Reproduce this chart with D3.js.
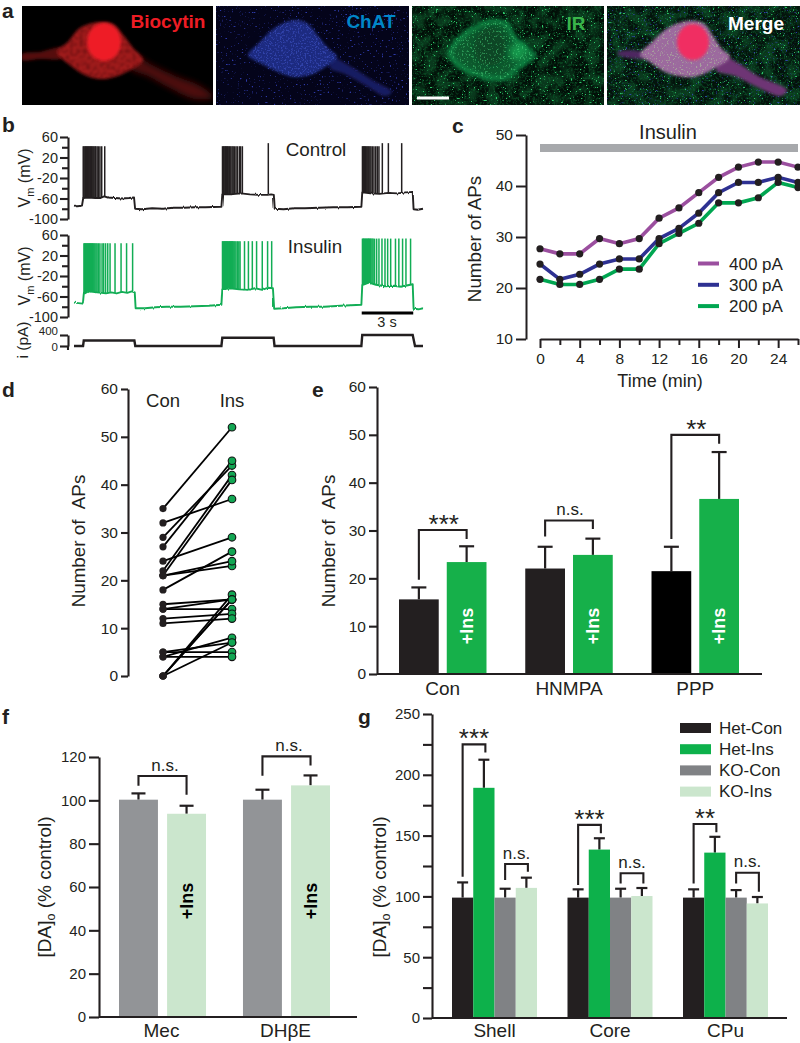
<!DOCTYPE html>
<html><head><meta charset="utf-8">
<script src="https://cdn.jsdelivr.net/npm/d3@7/dist/d3.min.js"></script>
<style>
html,body{margin:0;padding:0;background:#fff}
svg{display:block}
text{font-family:"Liberation Sans",Arial,sans-serif;fill:#231f20}
</style></head><body>
<svg id="fig" width="800" height="1043" xmlns="http://www.w3.org/2000/svg"></svg>
<script>
// ---------- Panel b: current steps and recorded traces (time in s, Vm in mV) ----------
const iSteps = [[0,0],[0.51,0],[0.55,200],[3.4,200],[3.45,0],[8.3,0],[8.35,300],[11.24,300],[11.29,0],[16.18,0],[16.23,400],[19.07,400],[19.2,0],[19.65,0]];
const controlTrace = [[0,-74],[0.2,-75],[0.45,-74],[0.52,-59],[0.8,-58],[1.2,-59],[1.5,-59],[1.7,-56],[1.9,-58],[2.3,-59],[2.7,-60],[3.1,-59],[3.38,-58],[3.44,-80],[3.8,-81],[4.4,-79],[5,-80],[5.6,-78],[6.2,-78],[6.8,-77],[7.4,-77],[8.3,-76],[8.35,-52],[8.8,-52],[9.4,-50],[9.9,-52],[10.4,-53],[10.9,-53],[11.1,-52],[11.25,-53],[11.3,-80],[11.8,-81],[12.4,-79],[13,-79],[13.8,-78],[14.6,-77],[15.4,-77],[16.18,-76],[16.23,-48],[16.7,-50],[17.2,-51],[17.7,-49],[18.2,-50],[18.7,-48],[19.07,-47],[19.12,-81],[19.35,-82],[19.65,-80]];
const insulinTrace = [[0,-72],[0.25,-73],[0.5,-74],[0.55,-55],[0.8,-50],[1.3,-52],[1.8,-54],[2.1,-52],[2.4,-54],[2.7,-51],[3,-53],[3.25,-50],[3.42,-52],[3.47,-83],[4,-83],[4.6,-81],[5.2,-80],[6,-80],[6.8,-79],[7.6,-78],[8.3,-76],[8.35,-46],[8.8,-44],[9.3,-46],[9.8,-47],[10.2,-44],[10.6,-47],[10.9,-43],[11.2,-44],[11.27,-84],[11.8,-83],[12.5,-81],[13.3,-80],[14.1,-80],[15,-78],[16.18,-76],[16.23,-38],[16.6,-33],[17,-37],[17.5,-40],[18,-39],[18.4,-41],[18.8,-38],[19.07,-36],[19.12,-84],[19.4,-85],[19.65,-83]];
const controlBursts = [
  {top:42, times:[0.52,0.57,0.62,0.66,0.71,0.75,0.8,0.84,0.89,0.93,0.98,1.02,1.07,1.12,1.18,1.22,1.3,1.37,1.46,1.56,1.73]},
  {top:42, times:[8.36,8.41,8.45,8.5,8.54,8.58,8.63,8.67,8.72,8.77,8.83,8.9,8.96,9.03,9.12,9.2,9.31,9.38,9.48]},
  {top:48, times:[10.94]},
  {top:42, times:[16.24,16.28,16.32,16.36,16.4,16.45,16.5,16.55,16.6,16.66,16.72,16.8,16.89,16.99,17.08,17.17]},
  {top:48, times:[17.36,17.7,18.45]}
];
const insulinBursts = [
  {top:44, times:[0.56,0.6,0.64,0.68,0.72,0.76,0.8,0.84,0.88,0.92,0.96,1,1.04,1.08,1.13,1.18,1.24,1.3,1.38,1.46,1.58,1.67,1.78,1.9,2.03,2.31,2.65,2.96,3.3]},
  {top:48, times:[8.36,8.4,8.44,8.48,8.52,8.56,8.6,8.64,8.68,8.72,8.76,8.8,8.84,8.88,8.92,8.96,9.01,9.06,9.12,9.2,9.28,9.35,9.6,9.82,10.04,10.28,10.6,10.9,11.13]},
  {top:53, times:[16.24,16.28,16.32,16.36,16.4,16.44,16.48,16.52,16.56,16.6,16.64,16.68,16.72,16.78,16.84,16.92,17.04,17.17,17.34,17.51,17.66,17.83,18.1,18.29,18.5,18.69,18.95]}
];
const vmTicks = [60,40,20,0,-20,-40,-60,-80,-100];
const vmLabels = [60,20,-20,-60,-100];
const iTicks = [400,0];

// ---------- Panel c ----------
const timeTicks = [0,2,4,6,8,10,12,14,16,18,20,22,24,26];
const timeLabels = [0,4,8,12,16,20,24];
const apTicks = [10,20,30,40,50];
const ap400 = [27.7,26.7,26.7,29.7,28.7,29.7,33.7,35.7,38.7,41.7,43.7,44.7,44.7,43.7];
const ap300 = [24.7,21.7,22.7,24.7,25.7,25.7,29.7,31.7,34.7,38.7,40.7,40.7,41.7,40.7];
const ap200 = [21.7,20.7,20.7,21.7,23.7,23.7,28.7,30.7,32.7,36.7,36.7,37.7,40.7,39.7];
const currentNames = ["400 pA","300 pA","200 pA"];

// ---------- Panel d ----------
const conValues = [35,32,29,27,24,22,21,21,21,18,15,14,14,12,11,5,5,4,4,0,0,0,0];
const insValues = [52,37,44,45,29,42,41,23,24,26,16,16,14,13,12,5,7,4,8,17,16,7,16];

// ---------- Panel e ----------
const eGroups = ["Con","HNMPA","PPP"];
const eMeans = [[15.6,23.4],[22.05,24.9],[21.5,36.6]];
const eErrTops = [[18.1,26.7],[26.6,28.3],[26.6,46.4]];
const eBrackets = [[19.7,30.1,28.2,"***"],[28.75,32.1,30.3,"n.s."],[28.2,50,48.15,"**"]];

// ---------- Panel f ----------
const fGroups = ["Mec","DHβE"];
const fMeans = [[100.3,93.8],[100.3,106.9]];
const fErrTops = [[103.2,97.5],[104.9,111.5]];
const fBrackets = [[106.7,111.2,102.6,"n.s."],[111.4,120.3,116.1,"n.s."]];

// ---------- Panel g ----------
const gGroups = ["Shell","Core","CPu"];
const gSeries = ["Het-Con","Het-Ins","KO-Con","KO-Ins"];
const gMeans = [[99,189.3,99,107],[99,138.5,99,100.3],[99,136,99,94.2]];
const gErrTops = [[111.5,212.4,106.3,115.4],[105.8,147.8,106.3,106.9],[105.8,149,105.2,99.5]];
const gBrackets = [
  [0,0,1,116.2,225,218.4,"***"],[0,2,3,113.5,126.6,120.3,"n.s."],
  [1,0,1,109.3,158.8,151.9,"***"],[1,2,3,110.7,119,110.7,"n.s."],
  [2,0,1,110.7,159.6,152.7,"**"],[2,2,3,110.7,119.5,103.8,"n.s."]];

// ---------- Panel a: cell outlines of the micrographs ----------
const photoBoxes = [[22,213],[216,409],[412,604],[607,800]];
const photoNames = ["Biocytin","ChAT","IR","Merge"];
const bodyRed = [[100,22],[113,24],[124,36],[133,48],[143,60],[130,70],[114,77],[100,79],[85,75],[70,65],[57,52],[68,42],[80,28]];
const procRedL = [[22,54],[40,52],[62,48],[62,58],[40,59],[22,60]];
const procRedR = [[135,56],[150,64],[175,76],[200,86],[213,97],[195,99],[170,88],[148,76],[130,68]];
const bodyBlue = [[296,20],[308,24],[318,36],[328,48],[337,57],[324,68],[310,75],[293,77],[278,72],[262,64],[248,55],[258,44],[276,27]];
const procBlue = [[332,58],[350,66],[372,80],[392,92],[385,96],[365,85],[345,74],[330,68]];
const bodyGreen = [[497,21],[507,25],[514,37],[525,48],[534,55],[520,66],[505,78],[490,78],[470,72],[455,62],[450,52],[460,38],[478,26]];
const bodyMerge = [[687,21],[703,23],[713,36],[721,48],[730,57],[715,68],[698,76],[684,77],[665,72],[650,62],[640,55],[652,42],[668,28]];
const procMerge = [[722,56],[738,63],[758,76],[787,90],[781,96],[755,86],[735,76],[716,70]];
const procMergeL = [[618,52],[642,52],[644,58],[618,55]];

// ---------- Colours ----------
const INK="#231f20", GREEN="#0db14b", GRAY="#808285", LIGHT="#cbe6cd";

const svg = d3.select("#fig");
const defs = svg.append("defs");

function speck(id, rgb, freq, seed, gain, off, blur){
  const f = defs.append("filter").attr("id",id).attr("x",0).attr("y",0).attr("width",1).attr("height",1)
    .attr("color-interpolation-filters","sRGB");
  f.append("feTurbulence").attr("type","fractalNoise").attr("baseFrequency",freq).attr("numOctaves",2).attr("seed",seed);
  f.append("feColorMatrix").attr("type","matrix")
    .attr("values",`0 0 0 0 ${rgb[0]} 0 0 0 0 ${rgb[1]} 0 0 0 0 ${rgb[2]} ${gain} 0 0 0 ${off}`);
  if(blur) f.append("feGaussianBlur").attr("stdDeviation",blur);
}
speck("spGreen",[0.2,0.85,0.45],0.55,3,12,-8.2,0.45);
speck("spGreenDim",[0.05,0.3,0.15],0.08,8,5,-2.2,1.2);
speck("spGreenFine",[0.05,0.38,0.18],0.45,13,6,-3,0.5);
speck("spBlue",[0.22,0.28,0.8],0.5,5,12,-8.2,0.5);
speck("spBlueCell",[0.32,0.4,0.9],0.6,9,7,-3.7,0.5);
speck("spTex",[0.3,0.03,0.04],0.3,11,6,-2.9,0.9);
speck("spGreenCell",[0.3,0.85,0.5],0.55,17,9,-5.3,0.5);
speck("spPale",[0.7,0.82,0.62],0.55,7,9,-5.3,0.5);
[["b1",0.8],["b2",1.8],["b3",3.2]].forEach(([id,s])=>{
  defs.append("filter").attr("id",id).attr("x","-30%").attr("y","-30%").attr("width","160%").attr("height","160%")
    .append("feGaussianBlur").attr("stdDeviation",s);
});
{
  const f=defs.append("filter").attr("id","fuzz").attr("x","-3%").attr("y","-10%").attr("width","106%").attr("height","120%")
    .attr("color-interpolation-filters","sRGB");
  f.append("feTurbulence").attr("type","fractalNoise").attr("baseFrequency","0.6 0.02").attr("numOctaves",2).attr("seed",4).attr("result","n");
  f.append("feDisplacementMap").attr("in","SourceGraphic").attr("in2","n").attr("scale",2.6).attr("xChannelSelector","G").attr("yChannelSelector","R");
}
const closed = d3.line().curve(d3.curveCatmullRomClosed);

// ---------- Panel a ----------
const pa = svg.append("g");
const photoBg = ["#000000","#04041a","#020f08","#04120c"];
photoBoxes.forEach((b,i)=>{
  defs.append("clipPath").attr("id","clip"+i).append("rect").attr("x",b[0]).attr("y",6).attr("width",b[1]-b[0]).attr("height",99);
});
function photo(i){
  const b=photoBoxes[i];
  const g=pa.append("g").attr("clip-path",`url(#clip${i})`);
  g.append("rect").attr("x",b[0]).attr("y",6).attr("width",b[1]-b[0]).attr("height",99).attr("fill",photoBg[i]);
  return g;
}
function noiseRect(g,i,filter,op){
  const b=photoBoxes[i];
  g.append("rect").attr("x",b[0]).attr("y",6).attr("width",b[1]-b[0]).attr("height",99).attr("filter",`url(#${filter})`).attr("opacity",op);
}
function clippedTexture(g,pts,id,filter,op){
  defs.append("clipPath").attr("id",id).append("path").attr("d",closed(pts));
  const x=d3.extent(pts,p=>p[0]), y=d3.extent(pts,p=>p[1]);
  g.append("g").attr("clip-path",`url(#${id})`).append("rect")
    .attr("x",x[0]-4).attr("y",y[0]-4).attr("width",x[1]-x[0]+8).attr("height",y[1]-y[0]+8)
    .attr("filter",`url(#${filter})`).attr("opacity",op);
}
// red
{
  const g=photo(0);
  g.append("path").attr("d",closed(procRedL)).attr("fill","#54100f").attr("filter","url(#b2)");
  g.append("path").attr("d",closed(procRedR)).attr("fill","#4e0f0e").attr("filter","url(#b3)");
  g.append("path").attr("d",closed(bodyRed)).attr("fill","#a01a1a").attr("filter","url(#b2)");
  clippedTexture(g,bodyRed,"texR","spTex",0.45);
  g.append("ellipse").attr("cx",104).attr("cy",42).attr("rx",17).attr("ry",19).attr("fill","#ee1c25").attr("filter","url(#b2)");
}
// blue
{
  const g=photo(1);
  noiseRect(g,1,"spBlue",0.8);
  g.append("path").attr("d",closed(procBlue)).attr("fill","#161f62").attr("filter","url(#b2)");
  g.append("path").attr("d",closed(bodyBlue)).attr("fill","#1f2a80").attr("filter","url(#b2)");
  clippedTexture(g,bodyBlue,"texB","spBlueCell",0.4);
}
// green
{
  const g=photo(2);
  noiseRect(g,2,"spGreenDim",0.7);
  noiseRect(g,2,"spGreenFine",0.5);
  noiseRect(g,2,"spGreen",0.9);
  g.append("path").attr("d",closed(bodyGreen)).attr("fill","#0b5a2f").attr("filter","url(#b2)");
  g.append("path").attr("d",closed(bodyGreen)).attr("fill","none").attr("stroke","#11924a").attr("stroke-width",6).attr("filter","url(#b2)").attr("opacity",0.6);
  g.append("ellipse").attr("cx",490).attr("cy",47).attr("rx",16).attr("ry",19).attr("fill","#0a3f22").attr("filter","url(#b3)").attr("opacity",0.75);
  g.append("ellipse").attr("cx",518).attr("cy",52).attr("rx",9).attr("ry",9).attr("fill","#14a653").attr("filter","url(#b3)").attr("opacity",0.8);
  clippedTexture(g,bodyGreen,"texG","spGreenCell",0.5);
  g.append("rect").attr("x",417).attr("y",96.5).attr("width",32).attr("height",3).attr("fill","#fff");
}
// merge
{
  const g=photo(3);
  noiseRect(g,3,"spGreenDim",0.7);
  noiseRect(g,3,"spGreenFine",0.5);
  noiseRect(g,3,"spGreen",0.85);
  noiseRect(g,3,"spBlue",0.8);
  g.append("path").attr("d",closed(procMergeL)).attr("fill","#4e2860").attr("filter","url(#b2)");
  g.append("path").attr("d",closed(procMerge)).attr("fill","#6e3674").attr("filter","url(#b2)");
  g.append("path").attr("d",closed(bodyMerge)).attr("fill","#9c6a9e").attr("filter","url(#b2)");
  clippedTexture(g,bodyMerge,"texM","spPale",0.5);
  g.append("ellipse").attr("cx",693).attr("cy",42).attr("rx",16).attr("ry",18).attr("fill","#f02f62").attr("filter","url(#b2)");
}
const photoText = [[168,27.5,"#ed1c24"],[371,27.5,"#0087c8"],[576,30,"#39b54a"],[756,30,"#ffffff"]];
pa.selectAll("text.pn").data(photoNames).join("text").attr("class","pn")
  .attr("x",(d,i)=>photoText[i][0]).attr("y",(d,i)=>photoText[i][1]).attr("text-anchor","middle")
  .attr("font-size",19).attr("font-weight","bold").style("fill",(d,i)=>photoText[i][2]).text(d=>d);

// ---------- Panel letters ----------
const letters = [["a",2,18],["b",2,132],["c",452,133],["d",2,397],["e",312,397],["f",2,724],["g",358,724]];
svg.selectAll("text.letter").data(letters).join("text").attr("class","letter")
  .attr("x",d=>d[1]).attr("y",d=>d[2]).attr("font-size",21).attr("font-weight","bold").text(d=>d[0]);

// ---------- Helpers ----------
function styleAxis(g,w){
  g.selectAll("path.domain").attr("stroke",INK).attr("stroke-width",w);
  g.selectAll(".tick line").attr("stroke",INK).attr("stroke-width",w);
  g.selectAll(".tick text").style("fill",INK).attr("font-family","Liberation Sans");
}
function leftAxis(x,scale,ticks,labels,fs,majorLen,minorLen,w,pad){
  const a=d3.axisLeft(scale).tickValues(ticks).tickSize(majorLen).tickSizeOuter(0).tickPadding(pad)
    .tickFormat(d=>labels.includes(d)?String(d):"");
  const g=svg.append("g").attr("transform",`translate(${x},0)`).call(a);
  g.selectAll(".tick line").attr("x2",d=>labels.includes(d)?-majorLen:-minorLen);
  g.selectAll(".tick text").attr("font-size",fs);
  styleAxis(g,w);
  return g;
}
function rotText(x,y,parts,fs,fill){
  const t=svg.append("text").attr("transform",`translate(${x},${y}) rotate(-90)`).attr("text-anchor","middle").attr("font-size",fs);
  if(fill) t.style("fill",fill);
  parts.forEach(p=>{
    const s=t.append("tspan").text(p[0]);
    if(p[1]) s.attr("dy",p[1]);
    if(p[2]) s.attr("font-size",p[2]);
  });
  return t;
}
function hText(x,y,s,fs,anchor){
  return svg.append("text").attr("x",x).attr("y",y).attr("font-size",fs).attr("text-anchor",anchor||"middle").text(s);
}

// ---------- Panel b ----------
const tx = d3.scaleLinear().domain([0,19.65]).range([74,423]);
const vmTop = d3.scaleLinear().domain([-100,60]).range([219,137]);
const vmBot = d3.scaleLinear().domain([-100,60]).range([317,235]);
const iy = d3.scaleLinear().domain([0,400]).range([346,335]);
leftAxis(68,vmTop,vmTicks,vmLabels,14.5,8,6,2.1,2);
leftAxis(68,vmBot,vmTicks,vmLabels,14.5,8,6,2.1,2);
{
  const g=leftAxis(68,iy,iTicks,iTicks,11.5,8,6,2.1,2);
  g.selectAll(".tick text").attr("dy",d=>d===400?"-0.05em":"0.42em");
  g.append("line").attr("y1",iy(0)).attr("y2",iy(0)+4).attr("stroke",INK).attr("stroke-width",2.1);
}
rotText(30,178,[["V"],["m",4,11],[" (mV)",-4]],16);
rotText(30,276,[["V"],["m",4,11],[" (mV)",-4]],16);
rotText(28,340,[["i (pA)"]],15.5);

function baselineAt(trace,t){
  const i=d3.bisector(d=>d[0]).left(trace,t);
  const a=trace[Math.max(i-1,0)], b=trace[Math.min(i,trace.length-1)];
  if(a[0]===b[0]) return a[1];
  return d3.interpolateNumber(a[1],b[1])((t-a[0])/(b[0]-a[0]));
}
function drawTrace(trace,bursts,y,col){
  const g=svg.append("g");
  g.append("path").attr("filter","url(#fuzz)").attr("d",d3.line().x(d=>tx(d[0])).y(d=>y(d[1]))(trace)).attr("fill","none").attr("stroke",col).attr("stroke-width",1.9).attr("stroke-linejoin","round");
  bursts.forEach(b=>{
    g.selectAll(null).data(b.times).join("line")
      .attr("x1",d=>tx(d)).attr("x2",d=>tx(d))
      .attr("y1",d=>y(baselineAt(trace,d))).attr("y2",y(b.top))
      .attr("stroke",col).attr("stroke-width",1.5);
  });
}
drawTrace(controlTrace,controlBursts,vmTop,INK);
drawTrace(insulinTrace,insulinBursts,vmBot,"#12ad55");
svg.append("path").attr("d",d3.line().x(d=>tx(d[0])).y(d=>iy(d[1]))(iSteps)).attr("fill","none").attr("stroke",INK).attr("stroke-width",2.4);
svg.append("line").attr("x1",tx(16.2)).attr("x2",tx(19.1)).attr("y1",313).attr("y2",313).attr("stroke","#000").attr("stroke-width",3);
hText(387,327,"3 s",14.5);
hText(316,156,"Control",18.8);
hText(315,253,"Insulin",18.8);

// ---------- Panel c ----------
const cx = d3.scaleLinear().domain([0,26]).range([540,798]);
const cy = d3.scaleLinear().domain([10,50]).range([339,135]);
leftAxis(526,cy,apTicks,apTicks,15.5,10,10,2,3);
{
  const a=d3.axisBottom(cx).tickValues(timeTicks).tickSize(9).tickSizeOuter(0).tickPadding(5)
    .tickFormat(d=>timeLabels.includes(d)?d:"");
  const g=svg.append("g").attr("transform",`translate(0,${cy(10)})`).call(a);
  g.selectAll(".tick line").attr("y2",d=>timeLabels.includes(d)?9:6);
  g.selectAll(".tick text").attr("font-size",15.5);
  styleAxis(g,2);
}
rotText(481,239,[["Number of APs"]],18.8);
hText(660,387,"Time (min)",18);
hText(668,139,"Insulin",20);
svg.append("rect").attr("x",cx(0)).attr("width",cx(26)-cx(0)).attr("y",144).attr("height",8).attr("fill","#a7a9ac");
const cColors=["#9b4f9f","#2e3192","#00a651"];
const cSeries=[ap400,ap300,ap200];
const cLine=d3.line().x((d,i)=>cx(timeTicks[i])).y(d=>cy(d));
cSeries.slice().reverse().forEach((s,k)=>{
  svg.append("path").attr("d",cLine(s)).attr("fill","none").attr("stroke",cColors[2-k]).attr("stroke-width",3.6);
});
cSeries.forEach(s=>{
  svg.append("g").selectAll("circle").data(s).join("circle")
    .attr("cx",(d,i)=>cx(timeTicks[i])).attr("cy",d=>cy(d)).attr("r",3.6).attr("fill",INK);
});
currentNames.forEach((n,i)=>{
  const y=263.5+21.3*i;
  svg.append("line").attr("x1",698).attr("x2",719).attr("y1",y).attr("y2",y).attr("stroke",cColors[i]).attr("stroke-width",4);
  hText(729,y+6,n,17,"start");
});

// ---------- Panel d ----------
const dy = d3.scaleLinear().domain([0,60]).range([676,389]);
const dx = d3.scalePoint().domain(["Con","Ins"]).range([163,232]);
leftAxis(128,dy,[0,10,20,30,40,50,60],[0,10,20,30,40,50,60],15.5,7,7,2.1,3);
rotText(85,541,[["Number of\u00a0\u00a0APs"]],18.8);
hText(dx("Con"),407,"Con",18.5);
hText(dx("Ins"),407,"Ins",18.5);
const dg=svg.append("g");
dg.selectAll("line").data(conValues).join("line")
  .attr("x1",dx("Con")).attr("x2",dx("Ins")).attr("y1",d=>dy(d)).attr("y2",(d,i)=>dy(insValues[i]))
  .attr("stroke","#000").attr("stroke-width",1.8);
dg.selectAll("circle.c").data(conValues).join("circle").attr("class","c").attr("cx",dx("Con")).attr("cy",d=>dy(d)).attr("r",3.6).attr("fill",INK);
dg.selectAll("circle.i").data(insValues).join("circle").attr("class","i").attr("cx",dx("Ins")).attr("cy",d=>dy(d)).attr("r",3.8).attr("fill","#12a653").attr("stroke","#111").attr("stroke-width",1.1);

// ---------- Bars helper ----------
function barPanel(o){
  const g=svg.append("g");
  const x0=d3.scaleBand().domain(o.groups).range(o.xr).paddingInner(o.pad);
  const x1=d3.scaleBand().domain(d3.range(o.colors[0].length)).range([0,x0.bandwidth()]).paddingInner(o.subPad);
  const bx=(gi,si)=>x0(o.groups[gi])+x1(si);
  o.means.forEach((row,gi)=>row.forEach((v,si)=>{
    const c=x0(o.groups[gi])+x1(si)+x1.bandwidth()/2;
    g.append("line").attr("x1",c).attr("x2",c).attr("y1",o.y(v)).attr("y2",o.y(o.errs[gi][si])).attr("stroke",INK).attr("stroke-width",2.2);
    g.append("line").attr("x1",c-o.cap/2).attr("x2",c+o.cap/2).attr("y1",o.y(o.errs[gi][si])).attr("y2",o.y(o.errs[gi][si])).attr("stroke",INK).attr("stroke-width",2.2);
    g.append("rect").attr("x",bx(gi,si)).attr("width",x1.bandwidth()).attr("y",o.y(v)).attr("height",o.y(0)-o.y(v)).attr("fill",o.colors[gi][si]);
  }));
  o.brackets.forEach(b=>{
    const c1=x0(o.groups[b[0]])+x1(b[1])+x1.bandwidth()/2, c2=x0(o.groups[b[0]])+x1(b[2])+x1.bandwidth()/2+(o.rightShift||0);
    g.append("path").attr("d",d3.line()([[c1,o.y(b[3])],[c1,o.y(b[4])],[c2,o.y(b[4])],[c2,o.y(b[5])]]))
      .attr("fill","none").attr("stroke",INK).attr("stroke-width",2.1);
    const star=b[6].includes("*");
    g.append("text").attr("x",(c1+c2)/2+(o.labelDx||0)).attr("y",o.y(b[4])+(star?3:-5.5))
      .attr("text-anchor","middle").attr("font-size",star?26:17).text(b[6]);
  });
  return {x0,x1};
}

// ---------- Panel e ----------
const ey=d3.scaleLinear().domain([0,60]).range([674,387]);
const eScale=barPanel({groups:eGroups,xr:[399,739],pad:0.307,subPad:0.168,y:ey,means:eMeans,errs:eErrTops,cap:15,
  colors:[[INK,"#16b04a"],[INK,"#16b04a"],["#000","#16b04a"]],
  brackets:eBrackets.map((b,i)=>[i,0,1,b[0],b[1],b[2],b[3]]),labelDx:1});
leftAxis(377,ey,[0,10,20,30,40,50,60],[0,10,20,30,40,50,60],15.5,8,8,2.1,3);
svg.append("line").attr("x1",377).attr("x2",762).attr("y1",ey(0)).attr("y2",ey(0)).attr("stroke",INK).attr("stroke-width",2.1);
rotText(335,541,[["Number of\u00a0\u00a0APs"]],18.8);
eGroups.forEach(n=>hText(eScale.x0(n)+eScale.x0.bandwidth()/2,695,n,19));
eGroups.forEach(n=>{
  const c=eScale.x0(n)+eScale.x1(1)+eScale.x1.bandwidth()/2;
  rotText(c+6,626,[["+Ins"]],18,"#fff").attr("font-weight","bold");
});

// ---------- Panel f ----------
const fy=d3.scaleLinear().domain([0,120]).range([1017,757]);
const fScale=barPanel({groups:fGroups,xr:[119,330],pad:0.298,subPad:0.19,y:fy,means:fMeans,errs:fErrTops,cap:14,
  colors:[["#929497",LIGHT],["#929497",LIGHT]],
  brackets:fBrackets.map((b,i)=>[i,0,1,b[0],b[1],b[2],b[3]]),labelDx:2.5});
leftAxis(99,fy,[0,20,40,60,80,100,120],[0,20,40,60,80,100,120],15,10,10,2.1,3);
svg.append("line").attr("x1",99).attr("x2",357).attr("y1",fy(0)).attr("y2",fy(0)).attr("stroke",INK).attr("stroke-width",2.1);
rotText(51,887,[["[DA]"],["o",4,12.5],[" (% control)",-4]],19);
fGroups.forEach(n=>hText(fScale.x0(n)+fScale.x0.bandwidth()/2-1,1037,n,19));
fGroups.forEach(n=>{
  const c=fScale.x0(n)+fScale.x1(1)+fScale.x1.bandwidth()/2;
  rotText(c+6,901,[["+Ins"]],18,"#000").attr("font-weight","bold");
});

// ---------- Panel g ----------
const gy=d3.scaleLinear().domain([0,250]).range([1018,714]);
const gColors=[INK,GREEN,GRAY,LIGHT];
const gScale=barPanel({groups:gGroups,xr:[452,768],pad:0.264,subPad:0,y:gy,means:gMeans,errs:gErrTops,cap:11,
  colors:gGroups.map(()=>gColors),brackets:gBrackets,rightShift:1.5});
leftAxis(432,gy,[0,25,50,75,100,125,150,175,200,225,250],[0,50,100,150,200,250],15,9,9,2.1,3);
svg.append("line").attr("x1",432).attr("x2",787).attr("y1",gy(0)).attr("y2",gy(0)).attr("stroke",INK).attr("stroke-width",2.1);
rotText(386,887,[["[DA]"],["o",4,12.5],[" (% control)",-4]],19);
gGroups.forEach(n=>hText(gScale.x0(n)+gScale.x0.bandwidth()/2,1037,n,19));
gSeries.forEach((n,i)=>{
  const y=723+21.2*i;
  svg.append("rect").attr("x",680).attr("y",y).attr("width",31).attr("height",10).attr("fill",gColors[i]);
  hText(719,y+10.5,n,17,"start");
});
</script>
</body></html>
